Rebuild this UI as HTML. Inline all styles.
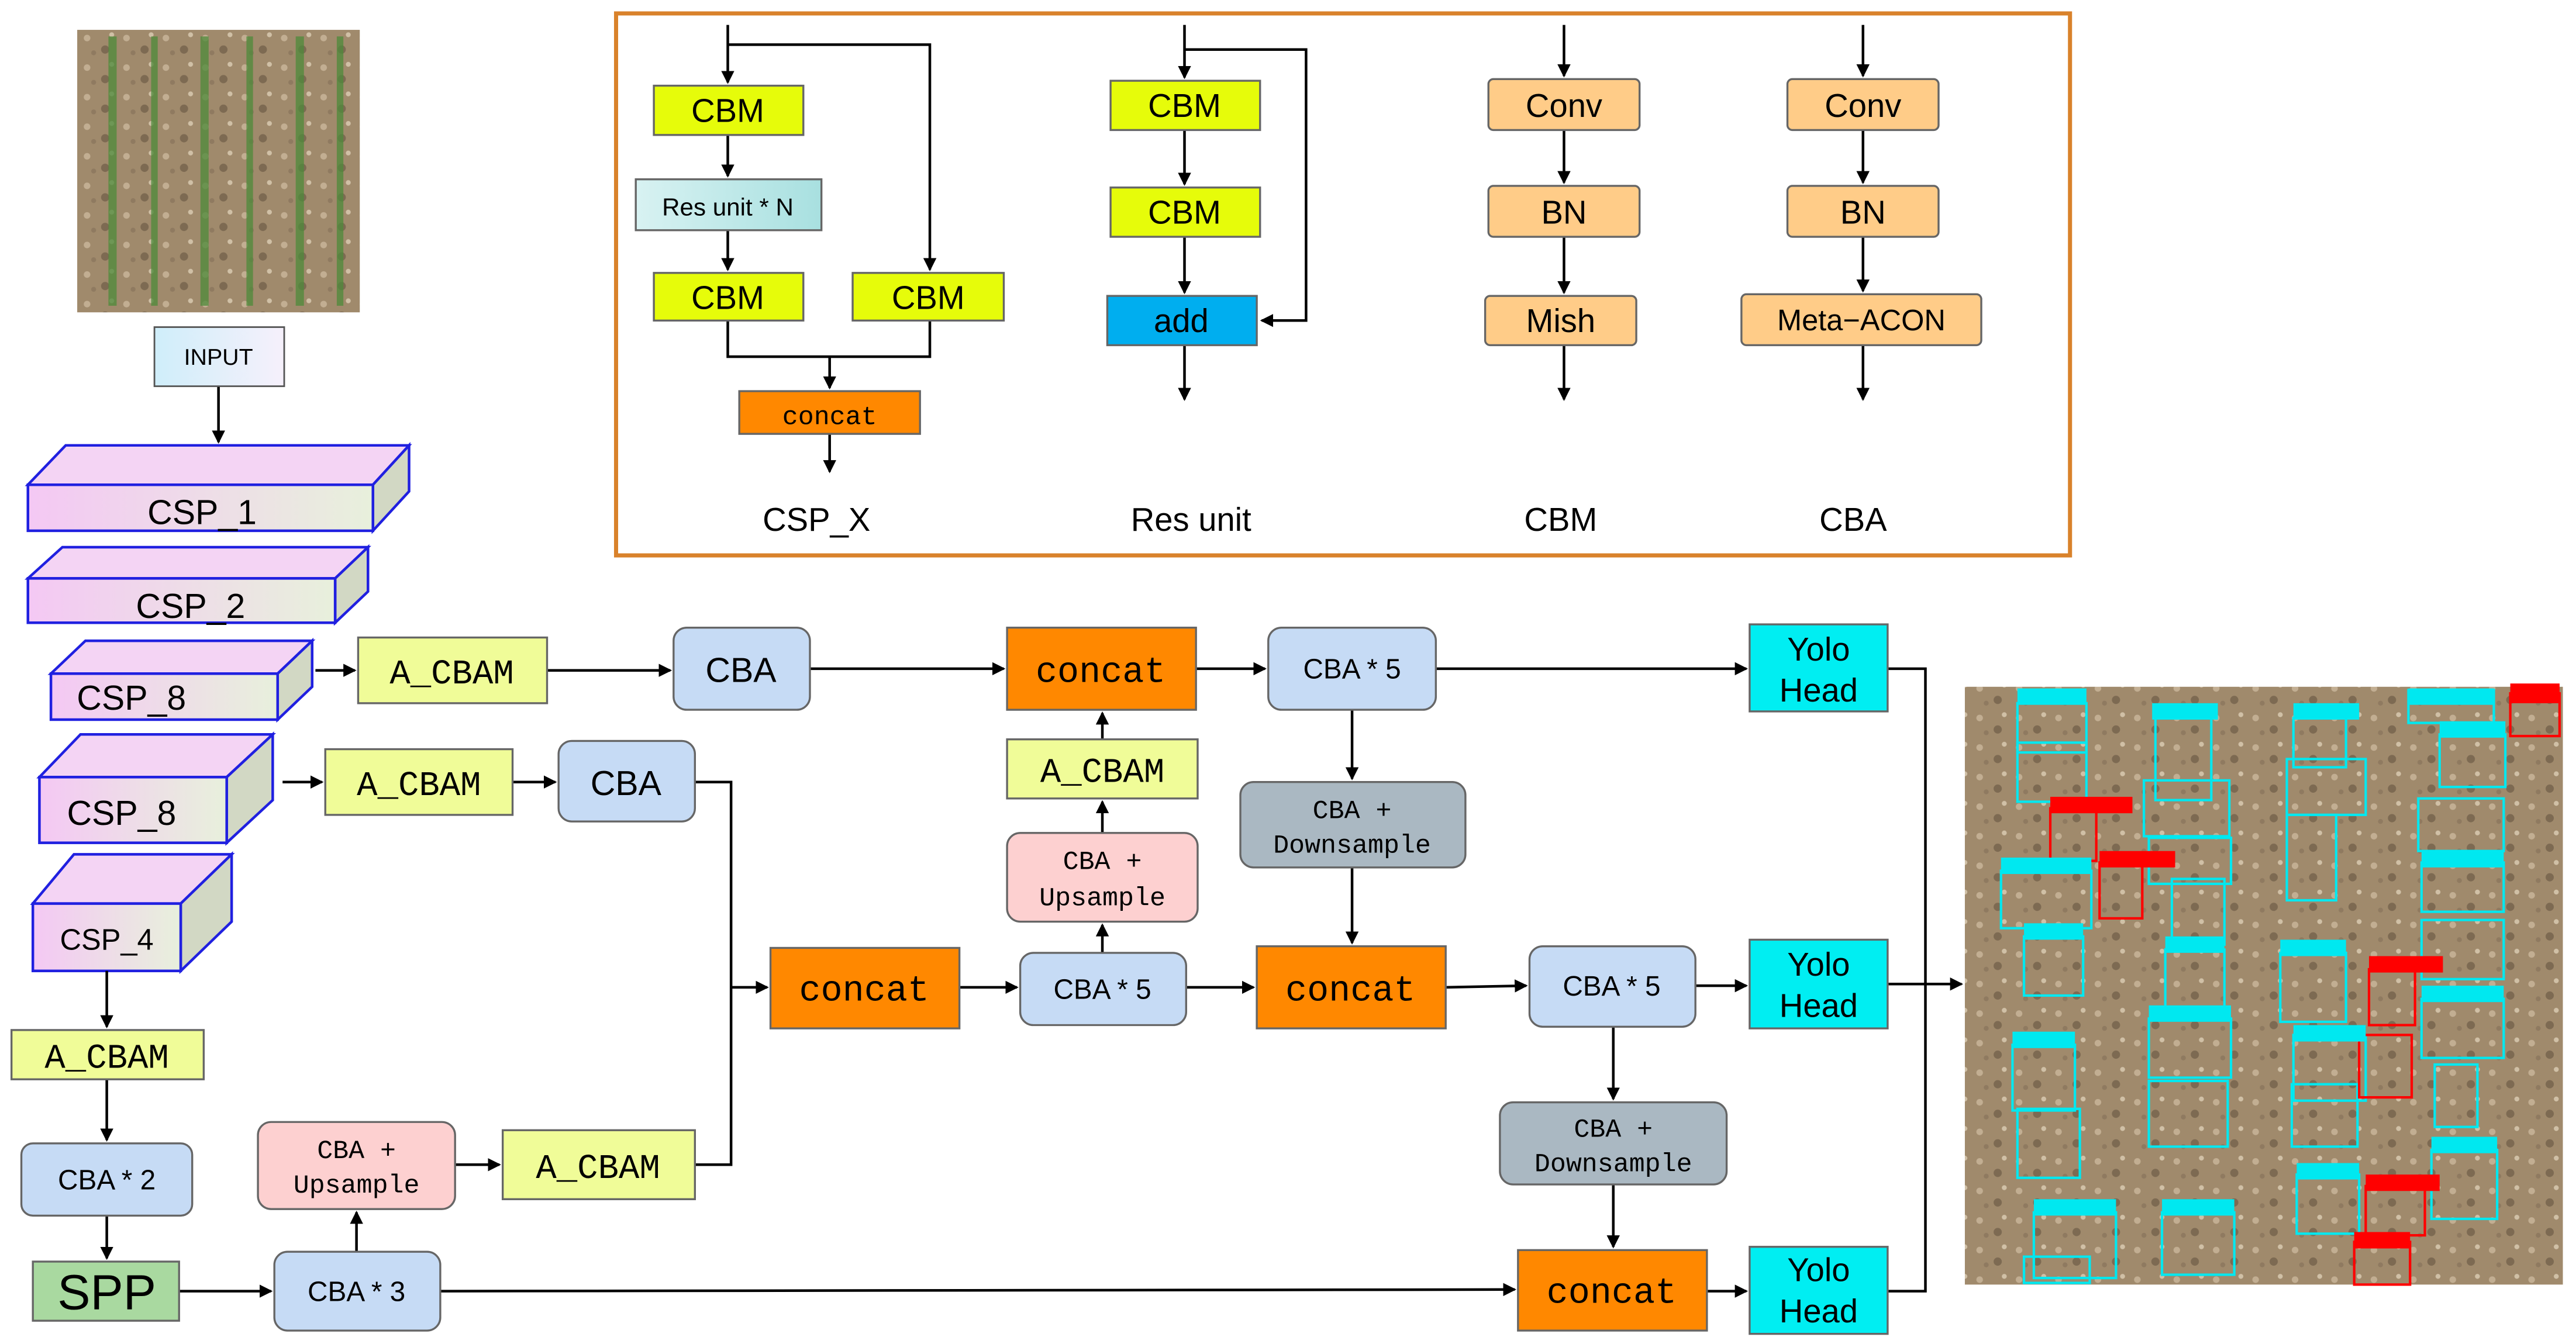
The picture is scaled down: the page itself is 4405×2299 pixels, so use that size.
<!DOCTYPE html>
<html><head><meta charset="utf-8">
<style>
html,body{margin:0;padding:0;background:#fff;width:4405px;height:2299px;overflow:hidden}
svg{display:block}
.s{font-family:"Liberation Sans",sans-serif}
.m{font-family:"Liberation Mono",monospace}
</style></head><body>
<svg width="4405" height="2299" viewBox="0 0 1568 818" xmlns="http://www.w3.org/2000/svg">
<defs>
<marker id="a" markerWidth="8" markerHeight="8" refX="7" refY="4" orient="auto" markerUnits="userSpaceOnUse">
<path d="M0,0 L8,4 L0,8 z" fill="#000"/></marker>
<linearGradient id="csp" x1="0" y1="0" x2="1" y2="0"><stop offset="0" stop-color="#f4c8f4"/><stop offset="1" stop-color="#e8f0dc"/></linearGradient>
<linearGradient id="inp" x1="0" y1="0" x2="1" y2="0"><stop offset="0" stop-color="#cfeefa"/><stop offset="1" stop-color="#f6f0fb"/></linearGradient>
<linearGradient id="res" x1="0" y1="0" x2="1" y2="0"><stop offset="0" stop-color="#d8f2f2"/><stop offset="1" stop-color="#a8e0e0"/></linearGradient>
<pattern id="soil" width="24" height="18" patternUnits="userSpaceOnUse">
<rect width="24" height="18" fill="#a08a6c"/><circle cx="5" cy="5" r="2" fill="#c2ae92"/><circle cx="16" cy="12" r="2.5" fill="#7d6a52"/><circle cx="20" cy="3" r="1.5" fill="#d0c0a6"/><circle cx="9" cy="14" r="1.5" fill="#8f7a60"/></pattern>
</defs>

<!-- left photo -->
<rect x="47" y="18" width="172" height="172" fill="url(#soil)"/>
<g fill="#4e8a3a" opacity="0.75">
<rect x="66" y="22" width="5" height="164"/><rect x="92" y="22" width="4" height="164"/><rect x="122" y="22" width="5" height="164"/><rect x="150" y="22" width="4" height="164"/><rect x="180" y="22" width="5" height="164"/><rect x="205" y="22" width="4" height="164"/></g>

<g stroke="#000" stroke-width="1.6" fill="none">
<!-- input -->
<line x1="133" y1="235" x2="133" y2="269" marker-end="url(#a)"/>
</g>
<rect x="94" y="199" width="79" height="36" fill="url(#inp)" stroke="#555"/>
<text x="133" y="222" class="s" font-size="14" text-anchor="middle">INPUT</text>

<!-- CSP blocks -->
<g stroke="#2020e0" stroke-width="1.6">
<path d="M17,295 L40,271 L249,271 L227,295 Z" fill="#f4d4f4"/>
<path d="M227,295 L249,271 L249,299 L227,323 Z" fill="#d2d8c4"/>
<rect x="17" y="295" width="210" height="28" fill="url(#csp)"/>
<path d="M17,352 L38,333 L224,333 L204,352 Z" fill="#f4d4f4"/>
<path d="M204,352 L224,333 L224,360 L204,379 Z" fill="#d2d8c4"/>
<rect x="17" y="352" width="187" height="27" fill="url(#csp)"/>
<path d="M31,410 L52,390 L190,390 L169,410 Z" fill="#f4d4f4"/>
<path d="M169,410 L190,390 L190,418 L169,438 Z" fill="#d2d8c4"/>
<rect x="31" y="410" width="138" height="28" fill="url(#csp)"/>
<path d="M24,473 L49,447 L166,447 L138,473 Z" fill="#f4d4f4"/>
<path d="M138,473 L166,447 L166,487 L138,513 Z" fill="#d2d8c4"/>
<rect x="24" y="473" width="114" height="40" fill="url(#csp)"/>
<path d="M20,550 L45,520 L141,520 L110,550 Z" fill="#f4d4f4"/>
<path d="M110,550 L141,520 L141,561 L110,591 Z" fill="#d2d8c4"/>
<rect x="20" y="550" width="90" height="41" fill="url(#csp)"/>
</g>
<g class="s" font-size="21" text-anchor="middle">
<text x="123" y="319">CSP_1</text><text x="116" y="376">CSP_2</text>
<text x="80" y="432">CSP_8</text><text x="74" y="502">CSP_8</text>
<text x="65" y="578" font-size="18">CSP_4</text></g>

<!-- connectors main -->
<g stroke="#000" stroke-width="1.6" fill="none">
<line x1="192" y1="408" x2="216" y2="408" marker-end="url(#a)"/>
<line x1="333" y1="408" x2="408" y2="408" marker-end="url(#a)"/>
<line x1="493" y1="407" x2="611" y2="407" marker-end="url(#a)"/>
<line x1="728" y1="407" x2="770" y2="407" marker-end="url(#a)"/>
<line x1="874" y1="407" x2="1063" y2="407" marker-end="url(#a)"/>
<line x1="172" y1="476" x2="196" y2="476" marker-end="url(#a)"/>
<line x1="312" y1="476" x2="338" y2="476" marker-end="url(#a)"/>
<polyline points="423,476 445,476 445,709 423,709"/>
<line x1="445" y1="601" x2="467" y2="601" marker-end="url(#a)"/>
<line x1="584" y1="601" x2="619" y2="601" marker-end="url(#a)"/>
<line x1="722" y1="601" x2="763" y2="601" marker-end="url(#a)"/>
<line x1="880" y1="601" x2="929" y2="600" marker-end="url(#a)"/>
<line x1="1032" y1="600" x2="1063" y2="600" marker-end="url(#a)"/>
<line x1="671" y1="580" x2="671" y2="563" marker-end="url(#a)"/>
<line x1="671" y1="507" x2="671" y2="488" marker-end="url(#a)"/>
<line x1="671" y1="450" x2="671" y2="434" marker-end="url(#a)"/>
<line x1="823" y1="432" x2="823" y2="474" marker-end="url(#a)"/>
<line x1="823" y1="528" x2="823" y2="574" marker-end="url(#a)"/>
<line x1="982" y1="625" x2="982" y2="669" marker-end="url(#a)"/>
<line x1="982" y1="721" x2="982" y2="759" marker-end="url(#a)"/>
<line x1="65" y1="591" x2="65" y2="625" marker-end="url(#a)"/>
<line x1="65" y1="657" x2="65" y2="694" marker-end="url(#a)"/>
<line x1="65" y1="740" x2="65" y2="766" marker-end="url(#a)"/>
<line x1="109" y1="786" x2="165" y2="786" marker-end="url(#a)"/>
<line x1="268" y1="786" x2="922" y2="785" marker-end="url(#a)"/>
<line x1="1039" y1="786" x2="1063" y2="786" marker-end="url(#a)"/>
<line x1="217" y1="762" x2="217" y2="738" marker-end="url(#a)"/>
<line x1="277" y1="709" x2="304" y2="709" marker-end="url(#a)"/>
<polyline points="1149,407 1172,407 1172,786 1149,786"/>
<line x1="1149" y1="599" x2="1194" y2="599" marker-end="url(#a)"/>
</g>

<!-- boxes -->
<g stroke="#666" stroke-width="1.2">
<rect x="7" y="627" width="117" height="30" fill="#f0fc98"/>
<rect x="13" y="696" width="104" height="44" rx="7" fill="#c6dbf5"/>
<rect x="20" y="768" width="89" height="36" fill="#a9d9a0"/>
<rect x="167" y="762" width="101" height="48" rx="8" fill="#c6dbf5"/>
<rect x="157" y="683" width="120" height="53" rx="8" fill="#fdd0d0"/>
<rect x="306" y="688" width="117" height="42" fill="#f0fc98"/>
<rect x="218" y="388" width="115" height="40" fill="#f0fc98"/>
<rect x="410" y="382" width="83" height="50" rx="8" fill="#c6dbf5"/>
<rect x="613" y="382" width="115" height="50" fill="#ff8800"/>
<rect x="772" y="382" width="102" height="50" rx="8" fill="#c6dbf5"/>
<rect x="1065" y="380" width="84" height="53" fill="#00eef2"/>
<rect x="198" y="456" width="114" height="40" fill="#f0fc98"/>
<rect x="340" y="451" width="83" height="49" rx="8" fill="#c6dbf5"/>
<rect x="613" y="450" width="116" height="36" fill="#f0fc98"/>
<rect x="613" y="507" width="116" height="54" rx="8" fill="#fdd0d0"/>
<rect x="755" y="476" width="137" height="52" rx="8" fill="#aab8c2"/>
<rect x="469" y="577" width="115" height="49" fill="#ff8800"/>
<rect x="621" y="580" width="101" height="44" rx="8" fill="#c6dbf5"/>
<rect x="765" y="576" width="115" height="50" fill="#ff8800"/>
<rect x="931" y="576" width="101" height="49" rx="8" fill="#c6dbf5"/>
<rect x="1065" y="572" width="84" height="54" fill="#00eef2"/>
<rect x="913" y="671" width="138" height="50" rx="8" fill="#aab8c2"/>
<rect x="924" y="761" width="115" height="49" fill="#ff8800"/>
<rect x="1065" y="759" width="84" height="53" fill="#00eef2"/>
</g>
<g text-anchor="middle" fill="#000">
<text x="65" y="650" class="m" font-size="21">A_CBAM</text>
<text x="65" y="724" class="s" font-size="17">CBA * 2</text>
<text x="65" y="797" class="s" font-size="30">SPP</text>
<text x="217" y="792" class="s" font-size="17">CBA * 3</text>
<text x="217" y="705" class="m" font-size="16">CBA +</text><text x="217" y="726" class="m" font-size="16">Upsample</text>
<text x="364" y="717" class="m" font-size="21">A_CBAM</text>
<text x="275" y="416" class="m" font-size="21">A_CBAM</text>
<text x="451" y="415" class="s" font-size="21">CBA</text>
<text x="670" y="415" class="m" font-size="22">concat</text>
<text x="823" y="413" class="s" font-size="17">CBA * 5</text>
<text x="1107" y="402" class="s" font-size="20">Yolo</text><text x="1107" y="427" class="s" font-size="20">Head</text>
<text x="255" y="484" class="m" font-size="21">A_CBAM</text>
<text x="381" y="484" class="s" font-size="21">CBA</text>
<text x="671" y="476" class="m" font-size="21">A_CBAM</text>
<text x="671" y="529" class="m" font-size="16">CBA +</text><text x="671" y="551" class="m" font-size="16">Upsample</text>
<text x="823" y="498" class="m" font-size="16">CBA +</text><text x="823" y="519" class="m" font-size="16">Downsample</text>
<text x="526" y="609" class="m" font-size="22">concat</text>
<text x="671" y="608" class="s" font-size="17">CBA * 5</text>
<text x="822" y="609" class="m" font-size="22">concat</text>
<text x="981" y="606" class="s" font-size="17">CBA * 5</text>
<text x="1107" y="594" class="s" font-size="20">Yolo</text><text x="1107" y="619" class="s" font-size="20">Head</text>
<text x="982" y="692" class="m" font-size="16">CBA +</text><text x="982" y="713" class="m" font-size="16">Downsample</text>
<text x="981" y="793" class="m" font-size="22">concat</text>
<text x="1107" y="780" class="s" font-size="20">Yolo</text><text x="1107" y="805" class="s" font-size="20">Head</text>
</g>

<!-- right photo -->
<rect x="1196" y="418" width="364" height="364" fill="url(#soil)"/>
<g fill="none" stroke="#00e8f0" stroke-width="1.5">
<rect x="1228" y="428" width="42" height="30"/><rect x="1228" y="452" width="42" height="36"/>
<rect x="1218" y="530" width="55" height="35"/><rect x="1232" y="570" width="36" height="36"/>
<rect x="1225" y="636" width="38" height="40"/><rect x="1228" y="675" width="38" height="42"/>
<rect x="1238" y="738" width="50" height="40"/><rect x="1232" y="765" width="40" height="16"/>
<rect x="1312" y="437" width="34" height="50"/><rect x="1305" y="475" width="52" height="34"/>
<rect x="1308" y="510" width="50" height="28"/><rect x="1322" y="535" width="32" height="40"/>
<rect x="1318" y="578" width="36" height="40"/><rect x="1308" y="620" width="50" height="36"/>
<rect x="1308" y="658" width="48" height="40"/><rect x="1316" y="738" width="44" height="38"/>
<rect x="1396" y="437" width="32" height="30"/><rect x="1392" y="462" width="48" height="34"/>
<rect x="1392" y="496" width="30" height="52"/><rect x="1388" y="580" width="40" height="42"/>
<rect x="1396" y="630" width="44" height="40"/><rect x="1395" y="660" width="40" height="38"/>
<rect x="1398" y="715" width="38" height="36"/><rect x="1466" y="420" width="52" height="20"/>
<rect x="1485" y="447" width="40" height="32"/><rect x="1472" y="486" width="52" height="32"/>
<rect x="1474" y="525" width="50" height="30"/><rect x="1474" y="560" width="50" height="36"/>
<rect x="1474" y="608" width="50" height="36"/><rect x="1482" y="648" width="26" height="38"/>
<rect x="1480" y="700" width="40" height="42"/>
</g>
<g fill="none" stroke="#f00" stroke-width="1.5">
<rect x="1248" y="492" width="28" height="32"/><rect x="1278" y="525" width="26" height="34"/>
<rect x="1442" y="590" width="28" height="34"/><rect x="1436" y="630" width="32" height="38"/>
<rect x="1440" y="722" width="36" height="30"/><rect x="1433" y="756" width="34" height="26"/>
<rect x="1528" y="422" width="30" height="26"/></g>
<g fill="#00e8f0" class="m" font-size="7">
<rect x="1228" y="419" width="42" height="10"/><rect x="1310" y="428" width="40" height="10"/><rect x="1396" y="428" width="40" height="10"/>
<rect x="1466" y="419" width="52" height="10"/><rect x="1485" y="439" width="40" height="10"/><rect x="1218" y="522" width="55" height="10"/>
<rect x="1232" y="562" width="36" height="10"/><rect x="1318" y="570" width="36" height="10"/><rect x="1388" y="572" width="40" height="10"/>
<rect x="1474" y="600" width="50" height="10"/><rect x="1308" y="612" width="50" height="10"/><rect x="1225" y="628" width="38" height="10"/>
<rect x="1396" y="624" width="44" height="10"/><rect x="1480" y="692" width="40" height="10"/><rect x="1238" y="730" width="50" height="10"/>
<rect x="1316" y="730" width="44" height="10"/><rect x="1398" y="708" width="38" height="10"/><rect x="1474" y="518" width="50" height="10"/>
</g>
<g fill="#f00"><rect x="1248" y="485" width="50" height="10"/><rect x="1278" y="518" width="46" height="10"/><rect x="1442" y="582" width="45" height="10"/>
<rect x="1440" y="715" width="45" height="10"/><rect x="1433" y="750" width="34" height="10"/><rect x="1528" y="416" width="30" height="12"/></g>

<!-- top legend box -->
<rect x="375" y="8" width="885" height="330" fill="none" stroke="#d9822b" stroke-width="2.5"/>
<g stroke="#000" stroke-width="1.6" fill="none">
<line x1="443" y1="15" x2="443" y2="50" marker-end="url(#a)"/>
<polyline points="443,27 566,27 566,164" marker-end="url(#a)"/>
<line x1="443" y1="82" x2="443" y2="107" marker-end="url(#a)"/>
<line x1="443" y1="140" x2="443" y2="164" marker-end="url(#a)"/>
<polyline points="443,195 443,217 566,217 566,195"/>
<line x1="505" y1="217" x2="505" y2="236" marker-end="url(#a)"/>
<line x1="505" y1="264" x2="505" y2="287" marker-end="url(#a)"/>
<line x1="721" y1="15" x2="721" y2="47" marker-end="url(#a)"/>
<polyline points="721,30 795,30 795,195 768,195" marker-end="url(#a)"/>
<line x1="721" y1="79" x2="721" y2="112" marker-end="url(#a)"/>
<line x1="721" y1="144" x2="721" y2="178" marker-end="url(#a)"/>
<line x1="721" y1="210" x2="721" y2="243" marker-end="url(#a)"/>
<line x1="952" y1="15" x2="952" y2="46" marker-end="url(#a)"/>
<line x1="952" y1="79" x2="952" y2="111" marker-end="url(#a)"/>
<line x1="952" y1="144" x2="952" y2="178" marker-end="url(#a)"/>
<line x1="952" y1="210" x2="952" y2="243" marker-end="url(#a)"/>
<line x1="1134" y1="15" x2="1134" y2="46" marker-end="url(#a)"/>
<line x1="1134" y1="79" x2="1134" y2="111" marker-end="url(#a)"/>
<line x1="1134" y1="144" x2="1134" y2="177" marker-end="url(#a)"/>
<line x1="1134" y1="210" x2="1134" y2="243" marker-end="url(#a)"/>
</g>
<g stroke="#666" stroke-width="1.2">
<rect x="398" y="52" width="91" height="30" fill="#e6fc0a"/>
<rect x="387" y="109" width="113" height="31" fill="url(#res)"/>
<rect x="398" y="166" width="91" height="29" fill="#e6fc0a"/>
<rect x="519" y="166" width="92" height="29" fill="#e6fc0a"/>
<rect x="450" y="238" width="110" height="26" fill="#ff8800"/>
<rect x="676" y="49" width="91" height="30" fill="#e6fc0a"/>
<rect x="676" y="114" width="91" height="30" fill="#e6fc0a"/>
<rect x="674" y="180" width="91" height="30" fill="#00aeef"/>
<rect x="906" y="48" width="92" height="31" rx="3" fill="#ffcc88"/>
<rect x="906" y="113" width="92" height="31" rx="3" fill="#ffcc88"/>
<rect x="904" y="180" width="92" height="30" rx="3" fill="#ffcc88"/>
<rect x="1088" y="48" width="92" height="31" rx="3" fill="#ffcc88"/>
<rect x="1088" y="113" width="92" height="31" rx="3" fill="#ffcc88"/>
<rect x="1060" y="179" width="146" height="31" rx="3" fill="#ffcc88"/>
</g>
<g text-anchor="middle" class="s" font-size="20">
<text x="443" y="74">CBM</text><text x="443" y="131" font-size="15">Res unit * N</text>
<text x="443" y="188">CBM</text><text x="565" y="188">CBM</text>
<text x="505" y="258" class="m" font-size="16">concat</text>
<text x="721" y="71">CBM</text><text x="721" y="136">CBM</text><text x="719" y="202">add</text>
<text x="952" y="71">Conv</text><text x="952" y="136">BN</text><text x="950" y="202">Mish</text>
<text x="1134" y="71">Conv</text><text x="1134" y="136">BN</text><text x="1133" y="201" font-size="18">Meta−ACON</text>
<text x="497" y="323">CSP_X</text><text x="725" y="323">Res unit</text>
<text x="950" y="323">CBM</text><text x="1128" y="323">CBA</text>
</g>
</svg>
</body></html>
